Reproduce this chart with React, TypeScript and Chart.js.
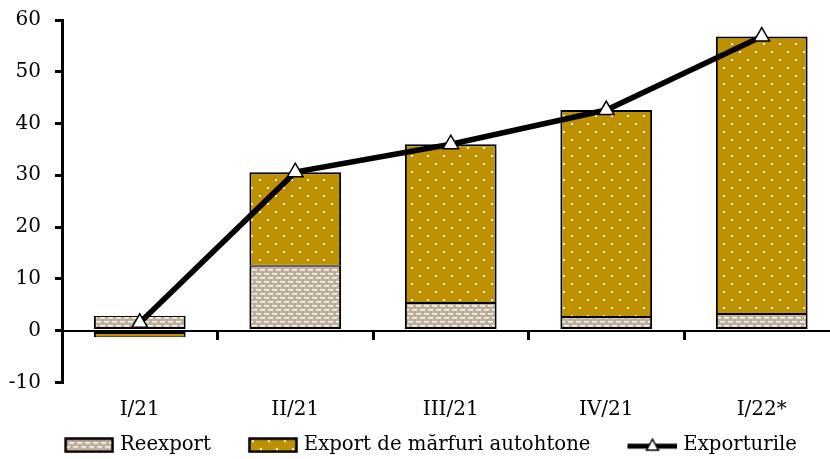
import React, { useEffect, useRef } from "react";
import { Chart, registerables } from "chart.js";

Chart.register(...registerables);

const categories = ["I/21", "II/21", "III/21", "IV/21", "I/22*"];
const reexport = [2.8, 12.5, 5.3, 2.6, 3.2];
const exportAutohtone = [-1.3, 18.1, 30.7, 40.0, 53.6];
const exporturile = [1.5, 30.6, 36.0, 42.6, 56.8];
const yTicks = [-10, 0, 10, 20, 30, 40, 50, 60];

const FONT = "'DejaVu Serif', serif";
const TAN = "#bfae99";
const GOLD = "#bf9000";
const BOXW = 73;
const LEAD = 31;
const SHIFT = 16;

function makeReexportPattern(ctx: CanvasRenderingContext2D) {
  const c = document.createElement("canvas");
  c.width = 8;
  c.height = 8;
  const g = c.getContext("2d")!;
  g.fillStyle = TAN;
  g.fillRect(0, 0, 8, 8);
  g.fillStyle = "#ffffff";
  g.fillRect(0, 1, 5, 1.5);
  g.fillRect(4, 5, 5, 1.5);
  g.fillRect(-4, 5, 5, 1.5);
  return ctx.createPattern(c, "repeat")!;
}

function makeGoldPattern(ctx: CanvasRenderingContext2D) {
  const c = document.createElement("canvas");
  c.width = 16;
  c.height = 16;
  const g = c.getContext("2d")!;
  g.fillStyle = GOLD;
  g.fillRect(0, 0, 16, 16);
  g.fillStyle = "#ffffff";
  g.fillRect(3, 3, 2, 2);
  g.fillRect(11, 11, 2, 2);
  return ctx.createPattern(c, "repeat")!;
}

function boxIcon(pattern: CanvasPattern, lead: number) {
  const c = document.createElement("canvas");
  c.width = 50 + lead;
  c.height = 16;
  const g = c.getContext("2d")!;
  g.fillStyle = pattern;
  g.fillRect(lead + 1.5, 1.5, 47, 13);
  g.strokeStyle = "#000";
  g.lineWidth = 2.5;
  g.strokeRect(lead + 1.5, 1.5, 47, 13);
  return c;
}

function lineIcon(lead: number) {
  const c = document.createElement("canvas");
  c.width = 50 + lead;
  c.height = 16;
  const g = c.getContext("2d")!;
  g.strokeStyle = "#000";
  g.lineWidth = 5;
  g.beginPath();
  g.moveTo(lead, 9);
  g.lineTo(lead + 50, 9);
  g.stroke();
  g.fillStyle = "#fff";
  g.lineWidth = 1.5;
  g.beginPath();
  g.moveTo(lead + 25, 2);
  g.lineTo(lead + 31, 13);
  g.lineTo(lead + 19, 13);
  g.closePath();
  g.fill();
  g.stroke();
  return c;
}

export default function App() {
  const ref = useRef<HTMLCanvasElement | null>(null);
  useEffect(() => {
    const canvas = ref.current!;
    const ctx = canvas.getContext("2d")!;
    const pRe = makeReexportPattern(ctx);
    const pGold = makeGoldPattern(ctx);
    const icons = [boxIcon(pRe, LEAD), boxIcon(pGold, LEAD), lineIcon(LEAD)];
    const chart = new Chart(canvas, {
      data: {
        labels: categories,
        datasets: [
          {
            type: "line",
            label: "Exporturile",
            data: exporturile,
            borderColor: "#000",
            borderWidth: 5.5,
            pointStyle: "triangle",
            pointRadius: 9,
            pointBackgroundColor: "#fff",
            pointBorderColor: "#000",
            pointBorderWidth: 1.5,
            order: 0,
          } as any,
          {
            type: "bar",
            label: "Reexport",
            data: reexport,
            backgroundColor: pRe,
            borderColor: "#000",
            borderWidth: { top: 1, bottom: 2, left: 2, right: 2 },
            borderSkipped: false,
            stack: "s",
            order: 1,
          },
          {
            type: "bar",
            label: "Export de mărfuri autohtone",
            data: exportAutohtone,
            backgroundColor: pGold,
            borderColor: "#000",
            borderWidth: { top: 2, bottom: 1, left: 2, right: 2 },
            borderSkipped: false,
            stack: "s",
            order: 1,
          },
        ],
      },
      options: {
        responsive: false,
        animation: false,
        layout: { padding: { top: 20, left: -SHIFT, right: 0, bottom: 0 } },
        datasets: { bar: { barPercentage: 0.59, categoryPercentage: 1 } } as any,
        plugins: {
          tooltip: { enabled: false },
          legend: {
            position: "bottom",
            labels: {
              usePointStyle: true,
              pointStyleWidth: BOXW,
              boxHeight: 16,
              font: { family: FONT, size: 19.7 },
              color: "#000",
              padding: 10,
              generateLabels: () => {
                const names = ["Reexport", "Export de mărfuri autohtone", "Exporturile"];
                return names.map((n, i) => ({
                  text: n,
                  pointStyle: icons[i] as any,
                  fillStyle: "#fff",
                  strokeStyle: "#fff",
                  lineWidth: 0,
                  hidden: false,
                  datasetIndex: i,
                })) as any;
              },
            },
          },
        },
        scales: {
          x: {
            stacked: true,
            offset: true,
            grid: { display: false },
            border: { display: false },
            ticks: { font: { family: FONT, size: 20 }, color: "#000", padding: 7 },
            afterFit: (s: any) => {
              s.height = 43;
            },
          },
          x2: {
            type: "category",
            axis: "x",
            labels: categories,
            position: { y: 0 } as any,
            offset: true,
            grid: { drawOnChartArea: false, offset: true, drawTicks: true, tickLength: 8, color: "#000", lineWidth: 3 },
            border: { display: true, color: "#000", width: 2 },
            ticks: { display: false },
          } as any,
          y: {
            stacked: true,
            min: -10,
            max: 60,
            afterBuildTicks: (s: any) => {
              s.ticks = yTicks.map((v) => ({ value: v }));
            },
            afterFit: (s: any) => {
              s.width = 62 + SHIFT;
              s.paddingTop = 0;
              s.paddingBottom = 0;
            },
            grid: { drawOnChartArea: false, drawTicks: true, tickLength: 7, color: "#000", lineWidth: 3 },
            border: { display: true, color: "#000", width: 3 },
            ticks: { font: { family: FONT, size: 20 }, color: "#000", padding: 14 },
          },
        },
      },
    } as any);
    return () => chart.destroy();
  }, []);
  return (
    <div style={{ position: "fixed", left: 0, top: 0, width: 830, height: 459, overflow: "hidden", background: "#fff" }}>
      <canvas ref={ref} width={850} height={465} style={{ width: 850, height: 465, display: "block" }} />
    </div>
  );
}
